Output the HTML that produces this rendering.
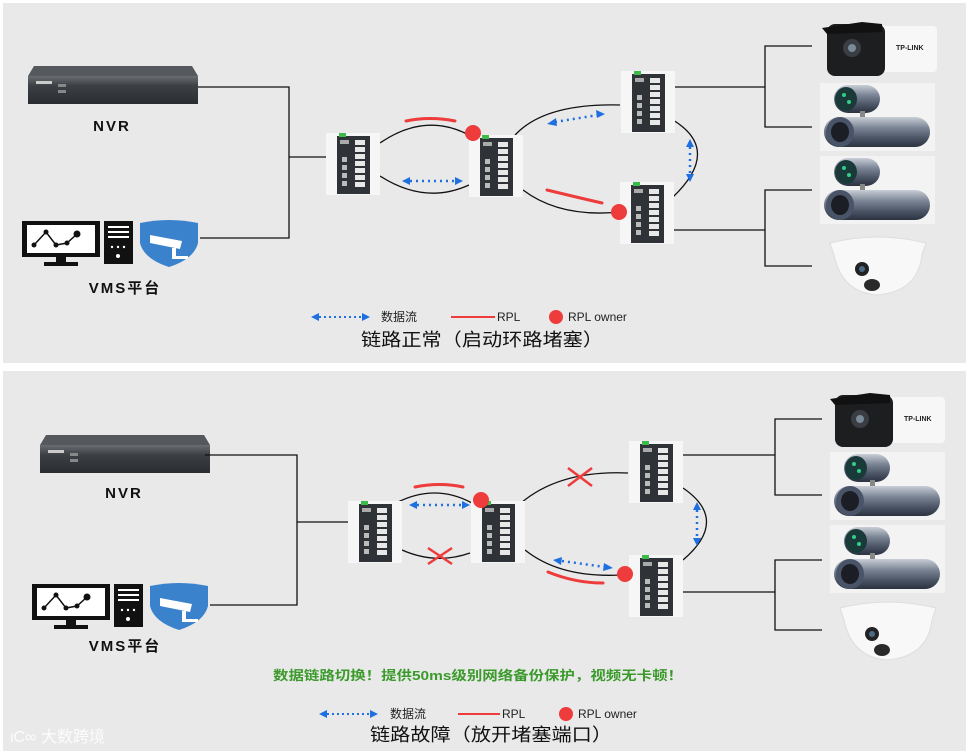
<!DOCTYPE html>
<html><head><meta charset="utf-8"><style>
html,body{margin:0;padding:0;background:#fff;width:969px;height:753px;overflow:hidden}
svg{display:block}
text{font-family:"Liberation Sans","Noto Sans CJK SC",sans-serif}
</style></head><body>
<svg width="969" height="753" viewBox="0 0 969 753" xmlns="http://www.w3.org/2000/svg">
<defs>
<linearGradient id="cyl" x1="0" y1="0" x2="0" y2="1"><stop offset="0" stop-color="#c9ced6"/><stop offset="0.35" stop-color="#7d8797"/><stop offset="0.7" stop-color="#4b5566"/><stop offset="1" stop-color="#2b3240"/></linearGradient>
<linearGradient id="nvr" x1="0" y1="0" x2="0" y2="1"><stop offset="0" stop-color="#6a6d72"/><stop offset="0.35" stop-color="#3c3f44"/><stop offset="1" stop-color="#2a2c30"/></linearGradient>
<g id="sw">
 <rect x="0" y="0" width="54" height="62" fill="#f6f6f6"/>
 <rect x="11" y="3" width="33" height="58" fill="#2f3236"/>
 <rect x="13" y="0" width="7" height="4" fill="#3dbb4a"/>
 <rect x="14" y="7" width="9" height="4" fill="#aaa"/>
 <g fill="#e8e8e8"><rect x="29" y="7" width="10" height="5"/><rect x="29" y="14" width="10" height="5"/><rect x="29" y="21" width="10" height="5"/><rect x="29" y="28" width="10" height="5"/><rect x="29" y="35" width="10" height="5"/><rect x="29" y="42" width="10" height="5"/><rect x="29" y="49" width="10" height="5"/></g>
 <g fill="#bbb"><rect x="16" y="24" width="5" height="5"/><rect x="16" y="32" width="5" height="5"/><rect x="16" y="40" width="5" height="5"/><rect x="16" y="48" width="5" height="5"/></g>
</g>
<g id="nvrg">
 <path d="M6,0 L164,0 L170,10 L0,10 Z" fill="#55585d"/>
 <rect x="0" y="10" width="170" height="28" fill="url(#nvr)"/>
 <rect x="8" y="15" width="16" height="3" fill="#ccc"/>
 <rect x="30" y="18" width="8" height="3" fill="#888"/><rect x="30" y="24" width="8" height="3" fill="#888"/>
</g>
<g id="vms">
 <rect x="0" y="0" width="78" height="36" fill="#111"/>
 <rect x="5" y="4" width="68" height="28" fill="#fff"/>
 <polyline points="12,24 24,11 34,24 45,22 55,13" fill="none" stroke="#111" stroke-width="1.5"/>
 <circle cx="12" cy="24" r="2.5" fill="#111"/><circle cx="24" cy="11" r="2.5" fill="#111"/><circle cx="34" cy="24" r="2.5" fill="#111"/><circle cx="45" cy="22" r="2.5" fill="#111"/><circle cx="55" cy="13" r="3.5" fill="#111"/>
 <rect x="34" y="36" width="10" height="6" fill="#111"/><rect x="22" y="41" width="34" height="4" fill="#111"/>
 <rect x="82" y="0" width="29" height="43" fill="#111"/>
 <rect x="86" y="5" width="21" height="2" fill="#fff"/><rect x="86" y="10" width="21" height="2" fill="#fff"/><rect x="86" y="15" width="21" height="2" fill="#fff"/>
 <circle cx="90" cy="26" r="1.2" fill="#fff"/><circle cx="96" cy="26" r="1.2" fill="#fff"/><circle cx="102" cy="26" r="1.2" fill="#fff"/><circle cx="96" cy="35" r="2" fill="#fff"/>
 <path d="M118,2 Q147,-4 176,2 L176,22 Q172,38 147,46 Q122,38 118,22 Z" fill="#3a82cc"/>
 <path d="M128,14 L160,20 L158,28 L128,22 Z" fill="#fff"/><rect x="150" y="27" width="4" height="10" fill="#fff"/><rect x="150" y="35" width="16" height="3" fill="#fff"/>
</g>
<g id="bullet">
 <rect x="40" y="4" width="75" height="46" rx="4" fill="#f7f7f7"/>
 <rect x="5" y="2" width="58" height="52" rx="8" fill="#1d1e20"/>
 <path d="M0,6 L40,0 L60,2 L60,10 L5,12 Z" fill="#111"/>
 <circle cx="30" cy="26" r="9" fill="#3a3d44"/><circle cx="30" cy="26" r="4" fill="#7a8a99"/>
 <text x="74" y="28" font-size="7" font-weight="bold" fill="#222">TP-LINK</text>
</g>
<g id="house">
 <rect x="0" y="0" width="115" height="68" fill="#f3f3f3"/>
 <rect x="14" y="2" width="46" height="28" rx="14" fill="url(#cyl)"/>
 <ellipse cx="26" cy="16" rx="11" ry="12" fill="#1a3a3a"/>
 <circle cx="24" cy="12" r="2" fill="#3c8"/><circle cx="29" cy="19" r="2" fill="#3c8"/>
 <rect x="40" y="28" width="5" height="10" fill="#888"/>
 <rect x="4" y="34" width="106" height="30" rx="15" fill="url(#cyl)"/>
 <ellipse cx="20" cy="49" rx="14" ry="15" fill="#4a5468"/><ellipse cx="20" cy="49" rx="9" ry="10" fill="#1c1e25"/>
</g>
<g id="dome">
 <path d="M10,10 Q58,-2 106,10 L102,22 Q98,58 58,62 Q22,60 14,22 Z" fill="#f8f8f8" stroke="#ddd"/>
 <circle cx="42" cy="36" r="7" fill="#222"/><circle cx="42" cy="36" r="3" fill="#4a6a88"/>
 <ellipse cx="52" cy="52" rx="8" ry="6" fill="#2a2a2a"/>
</g>
<g id="bl"><path d="M0,0 l8,-4 v8 z" fill="#1e6fe0"/></g>
<g id="br"><path d="M0,0 l-8,-4 v8 z" fill="#1e6fe0"/></g>
</defs>

<rect x="3" y="3" width="963" height="360" fill="#e9e9e9"/>
<rect x="3" y="371" width="963" height="380" fill="#e9e9e9"/>

<!-- ===== TOP ===== -->
<use href="#nvrg" x="28" y="66"/>
<text x="112" y="131" font-size="15" font-weight="bold" text-anchor="middle" fill="#111" letter-spacing="2">NVR</text>
<use href="#vms" x="22" y="221"/>
<text x="125" y="293" font-size="15" font-weight="bold" text-anchor="middle" fill="#111" letter-spacing="2">VMS平台</text>
<g fill="none" stroke="#111" stroke-width="1.3">
 <polyline points="198,87 289,87 289,238 200,238"/><line x1="289" y1="157" x2="326" y2="157"/>
 <polyline points="673,87 765,87"/><polyline points="812,46 765,46 765,127 812,127"/>
 <polyline points="673,230 765,230"/><polyline points="812,190 765,190 765,266 812,266"/>
 <path d="M380,143 Q425,112 469,135"/><path d="M380,176 Q425,205 469,185"/>
 <path d="M515,135 Q545,103 620,105"/><path d="M673,120 Q722,150 673,197"/><path d="M523,190 Q560,218 620,212"/>
</g>
<use href="#sw" x="326" y="133"/><use href="#sw" x="469" y="135"/><use href="#sw" x="621" y="71"/><use href="#sw" x="620" y="182"/>
<g stroke="#ee3b3b" stroke-width="3" fill="none" stroke-linecap="round"><path d="M406,121 Q430,116 455,121"/><path d="M547,190 Q580,198 602,203"/></g>
<circle cx="473" cy="133" r="8" fill="#ee3b3b"/><circle cx="619" cy="212" r="8" fill="#ee3b3b"/>
<g stroke="#1e6fe0" stroke-width="2.5" stroke-dasharray="2,4" fill="none"><line x1="410" y1="181" x2="455" y2="181"/><line x1="555" y1="122" x2="598" y2="115"/><line x1="690" y1="147" x2="690" y2="174"/></g>
<use href="#bl" x="402" y="181"/><use href="#br" x="463" y="181"/>
<path d="M547,124 l9,-6 l1,8 z" fill="#1e6fe0"/><path d="M605,114 l-9,-4 l1,8 z" fill="#1e6fe0"/>
<path d="M690,139 l-4,8 h8 z" fill="#1e6fe0"/><path d="M690,182 l-4,-8 h8 z" fill="#1e6fe0"/>
<use href="#bullet" x="822" y="22"/><use href="#house" x="820" y="83"/><use href="#house" x="820" y="156"/><use href="#dome" x="820" y="233"/>
<!-- legend top -->
<g stroke="#1e6fe0" stroke-width="2" stroke-dasharray="2,3"><line x1="319" y1="317" x2="362" y2="317"/></g>
<use href="#bl" x="311" y="317"/><use href="#br" x="370" y="317"/>
<text x="381" y="321" font-size="12" fill="#222">数据流</text>
<line x1="451" y1="317" x2="495" y2="317" stroke="#ee3b3b" stroke-width="2"/>
<text x="497" y="321" font-size="12" fill="#222">RPL</text>
<circle cx="556" cy="317" r="7" fill="#ee3b3b"/>
<text x="568" y="321" font-size="12" fill="#222">RPL owner</text>
<text x="361" y="346" font-size="18" fill="#111" textLength="242" lengthAdjust="spacingAndGlyphs">链路正常（启动环路堵塞）</text>

<!-- ===== BOTTOM ===== -->
<use href="#nvrg" x="40" y="435"/>
<text x="124" y="498" font-size="15" font-weight="bold" text-anchor="middle" fill="#111" letter-spacing="2">NVR</text>
<use href="#vms" x="32" y="584"/>
<text x="125" y="651" font-size="15" font-weight="bold" text-anchor="middle" fill="#111" letter-spacing="2">VMS平台</text>
<g fill="none" stroke="#111" stroke-width="1.3">
 <polyline points="205,455 297,455 297,605 210,605"/><line x1="297" y1="522" x2="348" y2="522"/>
 <polyline points="683,455 775,455"/><polyline points="822,419 775,419 775,495 822,495"/>
 <polyline points="683,592 775,592"/><polyline points="822,560 775,560 775,630 822,630"/>
 <path d="M396,503 Q435,483 472,503"/><path d="M402,550 Q436,565 470,553"/>
 <path d="M521,503 Q560,470 628,473"/><path d="M683,488 Q730,520 683,560"/><path d="M525,550 Q560,578 620,575"/>
</g>
<use href="#sw" x="348" y="501"/><use href="#sw" x="471" y="501"/><use href="#sw" x="629" y="441"/><use href="#sw" x="629" y="555"/>
<g stroke="#ee3b3b" stroke-width="3" fill="none" stroke-linecap="round"><path d="M415,487 Q440,482 463,487"/><path d="M548,572 Q575,583 603,583"/></g>
<circle cx="481" cy="500" r="8" fill="#ee3b3b"/><circle cx="625" cy="574" r="8" fill="#ee3b3b"/>
<g stroke="#ee3b3b" stroke-width="2.5"><line x1="428" y1="548" x2="452" y2="564"/><line x1="452" y1="548" x2="428" y2="564"/><line x1="568" y1="468" x2="592" y2="486"/><line x1="592" y1="468" x2="568" y2="486"/></g>
<g stroke="#1e6fe0" stroke-width="2.5" stroke-dasharray="2,4" fill="none"><line x1="417" y1="505" x2="462" y2="505"/><line x1="562" y1="561" x2="605" y2="567"/><line x1="697" y1="510" x2="697" y2="538"/></g>
<use href="#bl" x="409" y="505"/><use href="#br" x="470" y="505"/>
<path d="M553,560 l9,-3 l-1,8 z" fill="#1e6fe0"/><path d="M613,568 l-9,-5 l-1,8 z" fill="#1e6fe0"/>
<path d="M697,502 l-4,8 h8 z" fill="#1e6fe0"/><path d="M697,546 l-4,-8 h8 z" fill="#1e6fe0"/>
<use href="#bullet" x="830" y="393"/><use href="#house" x="830" y="452"/><use href="#house" x="830" y="525"/><use href="#dome" x="830" y="598"/>
<text x="273" y="680" font-size="13" font-weight="bold" fill="#3a9a2a" textLength="410" lengthAdjust="spacingAndGlyphs">数据链路切换！提供50ms级别网络备份保护，视频无卡顿！</text>
<g stroke="#1e6fe0" stroke-width="2" stroke-dasharray="2,3"><line x1="327" y1="714" x2="370" y2="714"/></g>
<use href="#bl" x="319" y="714"/><use href="#br" x="378" y="714"/>
<text x="390" y="718" font-size="12" fill="#222">数据流</text>
<line x1="458" y1="714" x2="500" y2="714" stroke="#ee3b3b" stroke-width="2"/>
<text x="502" y="718" font-size="12" fill="#222">RPL</text>
<circle cx="566" cy="714" r="7" fill="#ee3b3b"/>
<text x="578" y="718" font-size="12" fill="#222">RPL owner</text>
<text x="370" y="741" font-size="18" fill="#111" textLength="242" lengthAdjust="spacingAndGlyphs">链路故障（放开堵塞端口）</text>
<text x="10" y="742" font-size="16" fill="#ffffff" fill-opacity="0.85">ιC∞ 大数跨境</text>
</svg>
</body></html>
